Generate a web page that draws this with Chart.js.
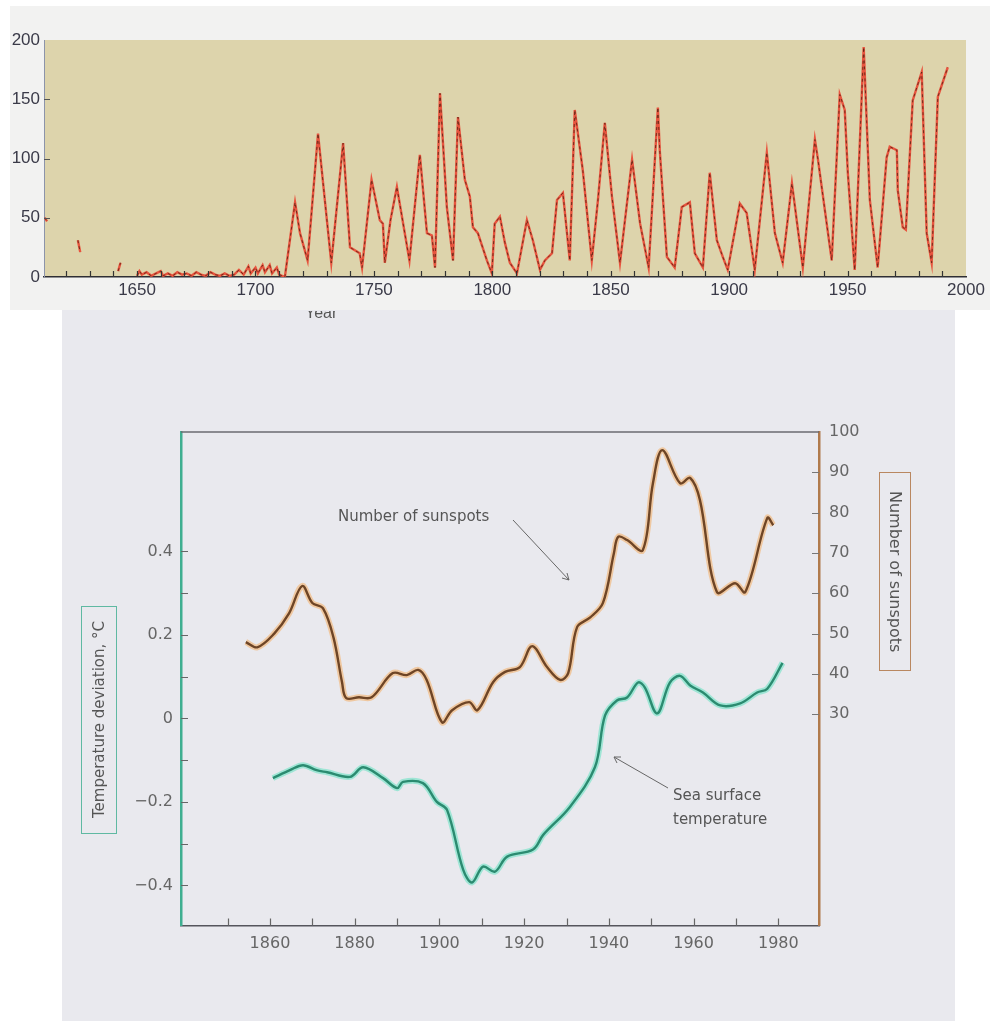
<!DOCTYPE html>
<html>
<head>
<meta charset="utf-8">
<script src="https://cdn.jsdelivr.net/npm/chart.js@4.4.1/dist/chart.umd.min.js"></script>
<style>
  body { margin: 0; width: 1000px; height: 1021px; background: #fff; position: relative; overflow: hidden; }
  #topPanel { position: absolute; left: 10px; top: 6px; width: 980px; height: 304px; background: #f2f2f1; }
  #page { position: absolute; left: 62px; top: 310px; width: 893px; height: 711px; background: #e9e9ee; }
  canvas { position: absolute; left: 0; }
  #sunspotChart { top: 0; z-index: 2; }
  #climateChart { top: 300px; z-index: 3; }
  .txt { position: absolute; font-family: "DejaVu Sans", sans-serif; color: #555; z-index: 4; white-space: nowrap; }
  #yearClip { position: absolute; left: 305px; top: 311px; width: 40px; height: 10px; overflow: hidden; z-index: 4; }
  #yearClip span { position: absolute; left: 0; top: -7px; font-family: 'Liberation Sans', Arial, sans-serif;
                   font-size: 16px; color: #555; }
  .axisBox { position: absolute; z-index: 4; display: flex; align-items: center; justify-content: center;
             font-family: "DejaVu Sans", sans-serif; font-size: 15px; color: #555; box-sizing: border-box; }
  #tempTitle { left: 81px; top: 606px; width: 36px; height: 228px; border: 1px solid #5fb9a2; }
  #tempTitle span { writing-mode: vertical-rl; transform: rotate(180deg); }
  #spotTitle { left: 879px; top: 472px; width: 32px; height: 199px; border: 1px solid #b98760; font-size: 16px; }
  #spotTitle span { writing-mode: vertical-rl; }
  #arrows { position: absolute; left: 0; top: 0; z-index: 5; }
</style>
</head>
<body>
<div id="topPanel"></div>
<div id="page"></div>
<canvas id="sunspotChart" width="1000" height="322"></canvas>
<div id="yearClip"><span>Year</span></div>
<canvas id="climateChart" width="1000" height="700"></canvas>

<div id="tempTitle" class="axisBox"><span>Temperature deviation, °C</span></div>
<div id="spotTitle" class="axisBox"><span>Number of sunspots</span></div>
<div class="txt" style="left:338px; top:507px; font-size:15px;">Number of sunspots</div>
<div class="txt" style="left:673px; top:783px; font-size:15px; line-height:24px;">Sea surface<br>temperature</div>
<svg id="arrows" width="1000" height="1021">
  <g stroke="#666" stroke-width="1" fill="none">
    <line x1="513" y1="520" x2="569" y2="580"/>
    <polyline points="562,578 569,580 567,573"/>
    <line x1="668" y1="788" x2="614" y2="757"/>
    <polyline points="617,763 614,757 621,757"/>
  </g>
</svg>

<script>
// annual sunspot numbers (top chart), null = no observations
const sunYears = [1611, 1612, 1612.5, 1625, 1626, 1626.5, 1642, 1643, 1643.5,
  1650, 1651, 1652, 1654, 1656, 1658, 1660, 1661, 1663, 1665, 1667, 1669, 1671, 1673, 1675, 1677, 1679,
  1681, 1683, 1685, 1687, 1689, 1691, 1693, 1695, 1697, 1698, 1700, 1701, 1703, 1704, 1706, 1707, 1709, 1710,
  1712.4, 1716.7, 1718.8, 1722, 1726.4, 1732, 1737, 1739.9, 1744, 1745, 1749, 1752.5, 1753.8, 1754.6,
  1757, 1759.7, 1765, 1769.4, 1772.4, 1774.5, 1775.8, 1777.9, 1780.8, 1783.4, 1785.5, 1788.4, 1790.5,
  1791.8, 1793.9, 1797.7, 1799.8, 1801, 1803.2, 1805.3, 1807.4, 1810.4, 1814.6, 1817.1, 1820.1, 1822.2,
  1825.2, 1827.3, 1829.8, 1832.7, 1834.8, 1838.2, 1842, 1844.6, 1847.5, 1850.5, 1853.9, 1859, 1862.4,
  1866, 1869.9, 1870.7, 1873.7, 1877, 1880, 1883.4, 1885.5, 1888.9, 1891.8, 1894.8, 1897.3, 1899.4,
  1904.5, 1907.4, 1910.8, 1915.9, 1919.3, 1922.6, 1926.5, 1931.1, 1936.2, 1937.5, 1943.3, 1946.7,
  1948.8, 1950.1, 1953, 1956.8, 1959.4, 1962.7, 1966.5, 1967.8, 1970.8, 1971.2, 1973.3, 1974.6,
  1977.5, 1981.3, 1983.4, 1985.5, 1988.1, 1992.3];
const sunValues = [50, 47, null, 31, 21, null, 5, 12, null,
  1, 5, 2, 4, 1, 3, 5, 1, 3, 1, 4, 2, 3, 1, 4, 2, 1,
  4, 2, 1, 3, 1, 2, 6, 2, 9, 3, 8, 3, 10, 4, 10, 3, 8, 2,
  0, 63, 37, 14, 121, 12, 113, 25, 20, 8, 82, 48, 45, 12,
  48, 76, 14, 103, 37, 35, 8, 155, 59, 14, 135, 82, 68,
  42, 37, 14, 3, 45, 51, 29, 12, 3, 48, 31, 6, 14,
  20, 65, 71, 14, 141, 90, 14, 65, 130, 68, 12, 99, 45,
  8, 143, 107, 17, 8, 59, 63, 20, 8, 88, 31, 17, 6,
  62, 54, 6, 105, 37, 12, 79, 8, 116, 99, 14, 154,
  141, 88, 6, 194, 65, 8, 101, 110, 107, 73, 42, 40,
  149, 173, 37, 12, 152, 177];
const topXTicks = [1620, 1630, 1640, 1650, 1660, 1670, 1680, 1690, 1700, 1710, 1720, 1730, 1740, 1750,
  1760, 1770, 1780, 1790, 1800, 1810, 1820, 1830, 1840, 1850, 1860, 1870, 1880, 1890, 1900, 1910,
  1920, 1930, 1940, 1950, 1960, 1970, 1980, 1990, 2000];
const topYTicks = [0, 50, 100, 150, 200];

// smoothed sunspot number and sea surface temperature (bottom chart)
const spotYears = [1854.3, 1857, 1861, 1864.5, 1867.6, 1870, 1872.5, 1875, 1877, 1878, 1881, 1884, 1889,
  1892.3, 1895, 1897, 1900.6, 1903, 1907, 1909, 1912.7, 1915.5, 1919, 1921.9, 1925.4, 1928.5, 1930.4,
  1932.5, 1935.6, 1938.6, 1941.2, 1942.2, 1944.3, 1948, 1950.4, 1952.6, 1956.8, 1959.2, 1961.5, 1965.5,
  1969.8, 1972.2, 1977.4, 1978.8];
const spotSmooth = [47.9, 46.6, 50, 55, 61.8, 57.6, 56.3, 49, 38, 34, 34.2, 34.2, 40.2,
  39.7, 41, 38.5, 28, 31, 33, 31, 38, 40.5, 41.7, 46.9, 41.7, 38.5, 40.2,
  51.6, 54, 57.6, 70, 74, 73.2, 70.7, 87.3, 95.5, 87.3, 88.6, 83.1, 60.3,
  62.5, 60.3, 78.7, 76.9];
const sstYears = [1860.7, 1864.7, 1867.8, 1871, 1873.5, 1878.9, 1882, 1886.7, 1890, 1891.4, 1896.1, 1899.4,
  1901.8, 1905.6, 1907.7, 1910.3, 1913.1, 1916, 1922.1, 1924.5, 1930.8, 1936.7, 1939.1, 1941.9, 1944.3,
  1946.9, 1948.5, 1951.4, 1954.4, 1956.8, 1959.2, 1962.2, 1966.3, 1971, 1975, 1977.4, 1981];
const sstValues = [-0.143, -0.124, -0.112, -0.124, -0.129, -0.14, -0.117, -0.143, -0.167, -0.152, -0.155, -0.2,
  -0.219, -0.362, -0.393, -0.355, -0.367, -0.331, -0.314, -0.279, -0.212, -0.117, 0.007, 0.043, 0.05,
  0.086, 0.074, 0.012, 0.086, 0.102, 0.079, 0.062, 0.031, 0.036, 0.062, 0.071, 0.133];
const bottomXTicks = [1850, 1860, 1870, 1880, 1890, 1900, 1910, 1920, 1930, 1940, 1950, 1960, 1970, 1980];
const tempTicks = [-0.4, -0.3, -0.2, -0.1, 0, 0.1, 0.2, 0.3, 0.4];
const spotTicks = [30, 40, 50, 60, 70, 80, 90, 100];

function toPoints(xs, ys) {
  return xs.map((x, i) => ({ x: x, y: ys[i] }));
}

// fills the plot area
function plotBackground(color) {
  return {
    id: 'plotBackground',
    beforeDraw(chart) {
      const a = chart.chartArea;
      chart.ctx.save();
      chart.ctx.fillStyle = color;
      chart.ctx.fillRect(a.left, a.top, a.right - a.left, a.bottom - a.top);
      chart.ctx.restore();
    }
  };
}

// tick marks pointing into the plot area
function innerTicks(spec) {
  return {
    id: 'innerTicks',
    afterDraw(chart) {
      const ctx = chart.ctx;
      spec.forEach(s => {
        const scale = chart.scales[s.id];
        ctx.save();
        ctx.strokeStyle = s.color;
        ctx.lineWidth = s.width;
        ctx.beginPath();
        scale.ticks.forEach(t => {
          if (t.value <= scale.min || t.value >= scale.max) return;
          const p = Math.round(scale.getPixelForValue(t.value)) + 0.5;
          if (scale.isHorizontal()) {
            ctx.moveTo(p, scale.top); ctx.lineTo(p, scale.top - s.length);
          } else if (scale.position === 'left') {
            ctx.moveTo(scale.right, p); ctx.lineTo(scale.right + s.length, p);
          } else {
            ctx.moveTo(scale.left, p); ctx.lineTo(scale.left - s.length, p);
          }
        });
        ctx.stroke();
        ctx.restore();
      });
    }
  };
}

const topFrame = {
  id: 'topFrame',
  afterDraw(chart) {
    const a = chart.chartArea;
    chart.ctx.save();
    chart.ctx.strokeStyle = '#6a6a70';
    chart.ctx.lineWidth = 1.5;
    chart.ctx.beginPath();
    chart.ctx.moveTo(a.left, a.top);
    chart.ctx.lineTo(a.right, a.top);
    chart.ctx.stroke();
    chart.ctx.restore();
  }
};

const topFont = { family: "'Liberation Sans', Arial, sans-serif", size: 17 };
const sunPoints = toPoints(sunYears, sunValues);

new Chart(document.getElementById('sunspotChart'), {
  type: 'line',
  data: {
    datasets: [
      { data: sunPoints, borderColor: 'rgba(95,35,20,0.85)', borderWidth: 1, borderDash: [3, 3], pointRadius: 0 },
      { data: sunPoints, borderColor: '#e8543e', borderWidth: 2.4, pointRadius: 0 }
    ]
  },
  options: {
    responsive: false,
    animation: false,
    layout: { padding: { left: 4, right: 34, top: 40, bottom: 0 } },
    plugins: { legend: { display: false }, tooltip: { enabled: false } },
    scales: {
      x: {
        type: 'linear', min: 1610.7, max: 2000,
        afterBuildTicks: s => { s.ticks = topXTicks.map(v => ({ value: v })); },
        afterFit: s => { s.height = 45; },
        grid: { display: false, drawTicks: false },
        border: { display: true, color: '#2e2e34', width: 1.5 },
        ticks: { autoSkip: false, maxRotation: 0, padding: 3, color: '#3a3a48', font: topFont,
                 callback: v => (v % 50 === 0 ? String(v) : '') }
      },
      y: {
        min: 0, max: 200,
        afterBuildTicks: s => { s.ticks = topYTicks.map(v => ({ value: v })); },
        afterFit: s => { s.width = 40; },
        grid: { display: false, drawTicks: false },
        border: { display: true, color: '#8c94aa', width: 1 },
        ticks: { padding: 4, color: '#3a3a48', font: topFont }
      }
    }
  },
  plugins: [plotBackground('#ddd4ac'), innerTicks([
    { id: 'x', length: 6, color: '#333', width: 1.2 },
    { id: 'y', length: 6, color: '#555', width: 1 }
  ])]
});

const botFont = { family: "'DejaVu Sans', sans-serif", size: 16 };
const spotPoints = toPoints(spotYears, spotSmooth);
const sstPoints = toPoints(sstYears, sstValues);

new Chart(document.getElementById('climateChart'), {
  type: 'line',
  data: {
    datasets: [
      { data: spotPoints, yAxisID: 'ySpots', borderColor: '#6e4526', borderWidth: 2.4, pointRadius: 0, tension: 0.35 },
      { data: sstPoints, yAxisID: 'yTemp', borderColor: '#2b8b70', borderWidth: 2.4, pointRadius: 0, tension: 0.35 },
      { data: spotPoints, yAxisID: 'ySpots', borderColor: 'rgba(244,178,110,0.6)', borderWidth: 6, pointRadius: 0, tension: 0.35 },
      { data: sstPoints, yAxisID: 'yTemp', borderColor: 'rgba(110,226,196,0.6)', borderWidth: 6, pointRadius: 0, tension: 0.35 }
    ]
  },
  options: {
    responsive: false,
    animation: false,
    layout: { padding: { left: 100, right: 131, top: 132, bottom: 34.5 } },
    plugins: { legend: { display: false }, tooltip: { enabled: false } },
    scales: {
      x: {
        type: 'linear', min: 1839, max: 1989.6,
        afterBuildTicks: s => { s.ticks = bottomXTicks.map(v => ({ value: v })); },
        afterFit: s => { s.height = 40; },
        grid: { display: false, drawTicks: false },
        border: { display: true, color: '#55555c', width: 1.5 },
        ticks: { autoSkip: false, maxRotation: 0, padding: 9, color: '#666', font: botFont,
                 callback: v => (v % 20 === 0 ? String(v) : '') }
      },
      yTemp: {
        position: 'left', min: -0.496, max: 0.686,
        afterBuildTicks: s => { s.ticks = tempTicks.map(v => ({ value: v })); },
        afterFit: s => { s.width = 81; },
        grid: { display: false, drawTicks: false },
        border: { display: true, color: '#3fae90', width: 2.5 },
        ticks: { autoSkip: false, padding: 8, color: '#666', font: botFont,
                 callback: v => {
                   const k = Math.round(v * 10);
                   if (k % 2 !== 0) return '';
                   if (k === 0) return '0';
                   return (k < 0 ? '\u2212' : '') + Math.abs(v).toFixed(1);
                 } }
      },
      ySpots: {
        position: 'right', min: -22.4, max: 100,
        afterBuildTicks: s => { s.ticks = spotTicks.map(v => ({ value: v })); },
        afterFit: s => { s.width = 50; },
        grid: { display: false, drawTicks: false },
        border: { display: true, color: '#b07a4c', width: 2.5 },
        ticks: { autoSkip: false, padding: 10, color: '#666', font: botFont }
      }
    }
  },
  plugins: [topFrame, innerTicks([
    { id: 'x', length: 7, color: '#666', width: 1.2 },
    { id: 'yTemp', length: 7, color: '#666', width: 1.2 },
    { id: 'ySpots', length: 7, color: '#777', width: 1.2 }
  ])]
});
</script>
</body>
</html>
